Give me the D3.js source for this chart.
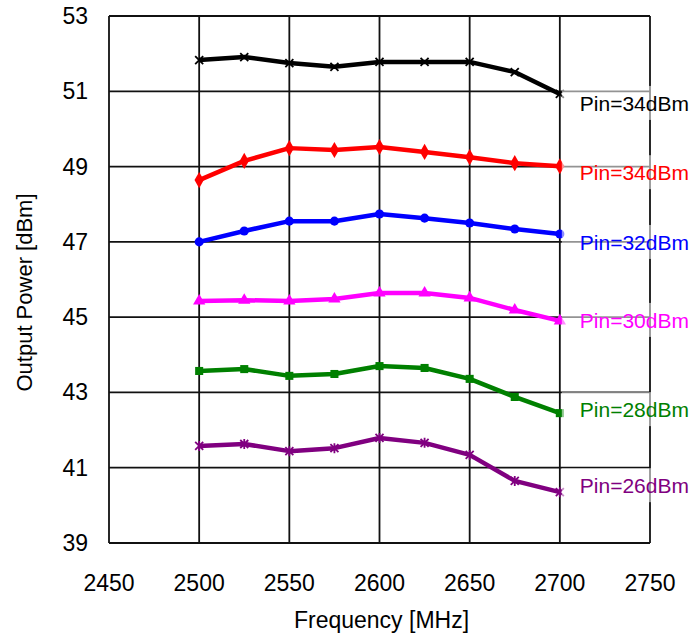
<!DOCTYPE html>
<html>
<head>
<meta charset="utf-8">
<script src="https://cdn.jsdelivr.net/npm/d3@7"></script>
<style>
  body { margin: 0; background: #fff; }
  text { font-family: "Liberation Sans", Arial, sans-serif; }
</style>
</head>
<body>
<div id="chart"></div>
<script>
var freqs = [2500, 2525, 2550, 2575, 2600, 2625, 2650, 2675, 2700];
var xTicks = [2450, 2500, 2550, 2600, 2650, 2700, 2750];
var yTicks = [39, 41, 43, 45, 47, 49, 51, 53];

var pin34a = [51.83, 51.91, 51.75, 51.65, 51.78, 51.78, 51.78, 51.51, 50.93];
var pin34b = [48.64, 49.15, 49.49, 49.44, 49.52, 49.39, 49.25, 49.09, 49.01];
var pin32 = [47.00, 47.29, 47.55, 47.55, 47.74, 47.63, 47.50, 47.34, 47.21];
var pin30 = [45.43, 45.45, 45.43, 45.48, 45.64, 45.64, 45.51, 45.19, 44.90];
var pin28 = [43.57, 43.62, 43.44, 43.49, 43.70, 43.65, 43.36, 42.88, 42.45];
var pin26 = [41.58, 41.63, 41.44, 41.52, 41.79, 41.66, 41.34, 40.65, 40.35];

var seriesNames = ["Pin=34dBm", "Pin=34dBm", "Pin=32dBm", "Pin=30dBm", "Pin=28dBm", "Pin=26dBm"];
var seriesValues = [pin34a, pin34b, pin32, pin30, pin28, pin26];
var seriesColors = ["#000000", "#ff0000", "#0000ff", "#ff00ff", "#008000", "#800080"];
var seriesMarkers = ["cross", "diamond", "circle", "triangle", "square", "star"];
// label vertical offset (in px) from the last point
var labelOffset = [9, 6, 8, -1, -4, -7];

var W = 697, H = 637;
var margin = { top: 16, right: 47, bottom: 94, left: 109 };
var width = W - margin.left - margin.right;
var height = H - margin.top - margin.bottom;

var x = d3.scaleLinear().domain([2450, 2750]).range([0, width]);
var y = d3.scaleLinear().domain([39, 53]).range([height, 0]);

var svg = d3.select("#chart").append("svg")
    .attr("width", W)
    .attr("height", H);

var g = svg.append("g")
    .attr("transform", "translate(" + margin.left + "," + margin.top + ")");

/*  grid  */
g.selectAll(".vgrid").data(xTicks).enter().append("line")
    .attr("x1", function (d) { return x(d); })
    .attr("x2", function (d) { return x(d); })
    .attr("y1", 0).attr("y2", height)
    .attr("stroke", "#111").attr("stroke-width", 1.8);

g.selectAll(".hgrid").data(yTicks).enter().append("line")
    .attr("x1", 0).attr("x2", width)
    .attr("y1", function (d) { return y(d); })
    .attr("y2", function (d) { return y(d); })
    .attr("stroke", "#111").attr("stroke-width", 1.8);

/*  tick labels  */
g.selectAll(".xlab").data(xTicks).enter().append("text")
    .attr("x", function (d) { return x(d); })
    .attr("y", height + 48)
    .attr("text-anchor", "middle")
    .style("font-size", "23px")
    .text(function (d) { return d; });

g.selectAll(".ylab").data(yTicks).enter().append("text")
    .attr("x", -21)
    .attr("y", function (d) { return y(d) + 8; })
    .attr("text-anchor", "end")
    .style("font-size", "23px")
    .text(function (d) { return d; });

svg.append("text")
    .attr("x", margin.left + width / 2 + 2)
    .attr("y", 628)
    .attr("text-anchor", "middle")
    .style("font-size", "23px")
    .text("Frequency [MHz]");

svg.append("text")
    .attr("transform", "translate(32," + (margin.top + height / 2 + 13) + ") rotate(-90)")
    .attr("text-anchor", "middle")
    .style("font-size", "22px")
    .text("Output Power [dBm]");

/*  series  */
var line = d3.line()
    .x(function (d, i) { return x(freqs[i]); })
    .y(function (d) { return y(d); });

var symbolTypes = {
    diamond: d3.symbolDiamond,
    circle: d3.symbolCircle,
    triangle: d3.symbolTriangle,
    square: d3.symbolSquare
};

seriesValues.forEach(function (vals, s) {
    var color = seriesColors[s];
    g.append("path")
        .datum(vals)
        .attr("d", line)
        .attr("fill", "none")
        .attr("stroke", color)
        .attr("stroke-width", 4.5)
        .attr("stroke-linejoin", "round");

    var m = seriesMarkers[s];
    var pts = g.selectAll(".pt" + s).data(vals).enter().append("g")
        .attr("transform", function (d, i) { return "translate(" + x(freqs[i]) + "," + y(d) + ")"; });

    if (m === "cross" || m === "star") {
        pts.append("path")
            .attr("d", "M-4,-4L4,4M-4,4L4,-4" + (m === "star" ? "M0,-5L0,5" : ""))
            .attr("stroke", color)
            .attr("stroke-width", 1.8)
            .attr("fill", "none");
    } else {
        pts.append("path")
            .attr("d", d3.symbol().type(symbolTypes[m]).size(m === "diamond" ? 75 : 65))
            .attr("fill", color);
    }
});

/*  labels with translucent boxes  */
seriesValues.forEach(function (vals, s) {
    var ly = y(vals[vals.length - 1]) + labelOffset[s];
    svg.append("rect")
        .attr("x", margin.left + x(2700) + 2)
        .attr("y", margin.top + ly - 17)
        .attr("width", 140)
        .attr("height", 34)
        .attr("fill", "#fff")
        .attr("fill-opacity", 0.55);
    svg.append("text")
        .attr("x", margin.left + x(2700) + 20)
        .attr("y", margin.top + ly + 8)
        .attr("fill", seriesColors[s])
        .style("font-size", "21px")
        .text(seriesNames[s]);
});
</script>
</body>
</html>
